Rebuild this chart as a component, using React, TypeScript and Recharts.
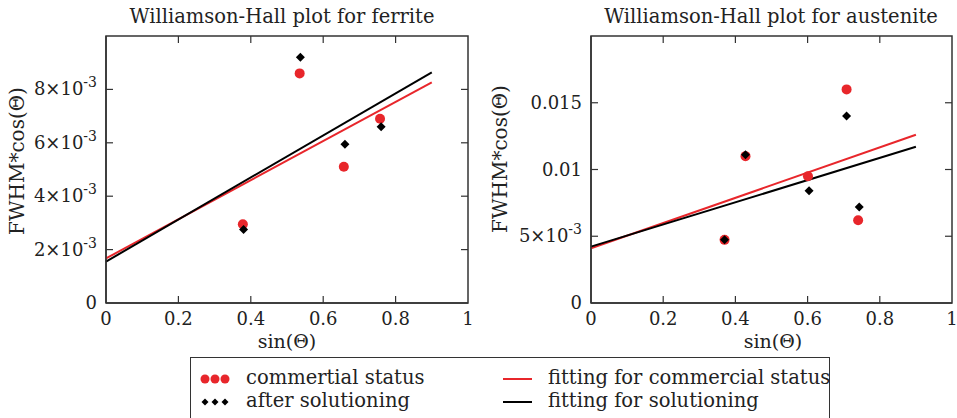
import { ScatterChart, Scatter, XAxis, YAxis } from "recharts"

// sin(theta) positions and FWHM*cos(theta) values
const ferriteXCommercial = [0.378, 0.535, 0.657, 0.757]
const ferriteCommercial = [0.00295, 0.0086, 0.0051, 0.0069]
const ferriteXSolution = [0.38, 0.537, 0.66, 0.76]
const ferriteSolution = [0.00275, 0.0092, 0.00595, 0.0066]

const austeniteXCommercial = [0.37, 0.428, 0.601, 0.708, 0.74]
const austeniteCommercial = [0.00473, 0.011, 0.0095, 0.016, 0.0062]
const austeniteXSolution = [0.37, 0.428, 0.604, 0.708, 0.743]
const austeniteSolution = [0.00473, 0.0111, 0.0084, 0.014, 0.0072]

// linear fits, drawn between their end points
const fitX = [0, 0.9]
const ferriteFitCommercial = [0.00167, 0.00826]
const ferriteFitSolution = [0.00155, 0.00864]
const austeniteFitCommercial = [0.0041, 0.0126]
const austeniteFitSolution = [0.00422, 0.0117]

const xTicks = [0, 0.2, 0.4, 0.6, 0.8, 1]
const xTickLabels = ["0", "0.2", "0.4", "0.6", "0.8", "1"]
const ferriteYTicks = [0, 0.002, 0.004, 0.006, 0.008]
const ferriteYTickLabels = ["0", "2×10^-3", "4×10^-3", "6×10^-3", "8×10^-3"]
const austeniteYTicks = [0, 0.005, 0.01, 0.015]
const austeniteYTickLabels = ["0", "5×10^-3", "0.01", "0.015"]

const RED = "#e8262b"
const BLACK = "#000000"
const FRAME = "#333333"
const FONT = "'DejaVu Serif', serif"
const TEXT = "#222222"

const CHART_H = 357
const TOP = 36
const X_AXIS_H = 54
const TICK_PX = 7

const zip = (xs: number[], ys: number[]) => xs.map((x, i) => ({ x, y: ys[i] }))

function TickText({ x, y, label, anchor }: { x: number; y: number; label: string; anchor: "end" | "middle" }) {
  const [base, exp] = label.split("^")
  return (
    <text x={x} y={y} textAnchor={anchor} fontFamily={FONT} fontSize={18} fill={TEXT}>
      {base}
      {exp && (
        <tspan fontSize={14} dy={-8}>
          {exp}
        </tspan>
      )}
    </text>
  )
}

const Diamond = (props: any) => {
  const { cx, cy } = props
  const r = 4.5
  return <polygon points={`${cx},${cy - r} ${cx + r},${cy} ${cx},${cy + r} ${cx - r},${cy}`} fill={BLACK} />
}

const Dot = (props: any) => <circle cx={props.cx} cy={props.cy} r={5} fill={RED} />
const Nothing = () => <g />

interface PanelProps {
  yDomain: [number, number]
  yTicks: number[]
  yTickLabels: string[]
  axisWidth: number
  width: number
  rightMargin: number
  commercialX: number[]
  commercial: number[]
  solutionX: number[]
  solution: number[]
  fitCommercial: number[]
  fitSolution: number[]
}

// box around the plot with inward ticks on all four sides
function Frame(p: PanelProps) {
  const left = p.axisWidth
  const w = p.width - p.axisWidth - p.rightMargin
  const h = CHART_H - TOP - X_AXIS_H
  const bottom = TOP + h
  const right = left + w
  const [y0, y1] = p.yDomain
  const px = (v: number) => left + v * w
  const py = (v: number) => bottom - ((v - y0) / (y1 - y0)) * h
  return (
    <svg width={p.width} height={CHART_H} style={{ position: "absolute", left: 0, top: 0, pointerEvents: "none" }}>
      <rect x={left} y={TOP} width={w} height={h} fill="none" stroke={FRAME} strokeWidth={1.5} />
      {xTicks.slice(1, -1).map((v) => (
        <g key={`x${v}`} stroke={FRAME} strokeWidth={1.2}>
          <line x1={px(v)} y1={bottom} x2={px(v)} y2={bottom - TICK_PX} />
          <line x1={px(v)} y1={TOP} x2={px(v)} y2={TOP + TICK_PX} />
        </g>
      ))}
      {p.yTicks.slice(1).map((v) => (
        <g key={`y${v}`} stroke={FRAME} strokeWidth={1.2}>
          <line x1={left} y1={py(v)} x2={left + TICK_PX} y2={py(v)} />
          <line x1={right} y1={py(v)} x2={right - TICK_PX} y2={py(v)} />
        </g>
      ))}
    </svg>
  )
}

function Panel(p: PanelProps) {
  return (
    <div style={{ position: "relative", width: p.width, height: CHART_H }}>
      <ScatterChart width={p.width} height={CHART_H} margin={{ top: TOP, right: p.rightMargin, bottom: 0, left: 0 }}>
        <XAxis
          type="number"
          dataKey="x"
          domain={[0, 1]}
          ticks={xTicks}
          height={X_AXIS_H}
          stroke={FRAME}
          strokeWidth={1.5}
          tickLine={false}
          tickSize={0}
          tickMargin={0}
          tick={(t: any) => <TickText x={t.x} y={t.y + 22} label={xTickLabels[t.index]} anchor="middle" />}
        />
        <YAxis
          type="number"
          dataKey="y"
          domain={p.yDomain}
          ticks={p.yTicks}
          width={p.axisWidth}
          stroke={FRAME}
          strokeWidth={1.5}
          tickLine={false}
          tickSize={0}
          tickMargin={0}
          tick={(t: any) => <TickText x={t.x - 9} y={t.y + 6} label={p.yTickLabels[t.index]} anchor="end" />}
        />
        <Scatter
          data={zip(fitX, p.fitCommercial)}
          line={{ stroke: RED, strokeWidth: 2 }}
          shape={Nothing}
          isAnimationActive={false}
        />
        <Scatter
          data={zip(fitX, p.fitSolution)}
          line={{ stroke: BLACK, strokeWidth: 2 }}
          shape={Nothing}
          isAnimationActive={false}
        />
        <Scatter data={zip(p.commercialX, p.commercial)} shape={Dot} isAnimationActive={false} />
        <Scatter data={zip(p.solutionX, p.solution)} shape={Diamond} isAnimationActive={false} />
      </ScatterChart>
      <Frame {...p} />
    </div>
  )
}

const abs = (left: number, top: number, extra: React.CSSProperties = {}): React.CSSProperties => ({
  position: "absolute",
  left,
  top,
  fontFamily: FONT,
  color: TEXT,
  whiteSpace: "nowrap",
  ...extra,
})

const centered = (cx: number, cy: number, size: number, rotate = 0): React.CSSProperties =>
  abs(cx, cy, { fontSize: size, transform: `translate(-50%, -50%) rotate(${rotate}deg)`, lineHeight: 1 })

export default function App() {
  return (
    <div style={{ position: "fixed", left: 0, top: 0, width: 957, height: 418, background: "#fff", overflow: "hidden" }}>
      <div style={abs(0, 0)}>
        <Panel
          width={478}
          axisWidth={106}
          rightMargin={10}
          yDomain={[0, 0.01]}
          yTicks={ferriteYTicks}
          yTickLabels={ferriteYTickLabels}
          commercialX={ferriteXCommercial}
          commercial={ferriteCommercial}
          solutionX={ferriteXSolution}
          solution={ferriteSolution}
          fitCommercial={ferriteFitCommercial}
          fitSolution={ferriteFitSolution}
        />
      </div>
      <div style={abs(478, 0)}>
        <Panel
          width={479}
          axisWidth={113}
          rightMargin={5}
          yDomain={[0, 0.02]}
          yTicks={austeniteYTicks}
          yTickLabels={austeniteYTickLabels}
          commercialX={austeniteXCommercial}
          commercial={austeniteCommercial}
          solutionX={austeniteXSolution}
          solution={austeniteSolution}
          fitCommercial={austeniteFitCommercial}
          fitSolution={austeniteFitSolution}
        />
      </div>

      <div style={centered(282, 17, 19.5)}>Williamson-Hall plot for ferrite</div>
      <div style={centered(771, 17, 19.5)}>Williamson-Hall plot for austenite</div>
      <div style={centered(287, 341, 19)}>sin(Θ)</div>
      <div style={centered(773, 341, 19)}>sin(Θ)</div>
      <div style={centered(17, 161, 20, -90)}>FWHM*cos(Θ)</div>
      <div style={centered(500, 159, 20, -90)}>FWHM*cos(Θ)</div>

      <div style={abs(190, 357, { width: 640, height: 80, border: `1.5px solid ${FRAME}`, boxSizing: "border-box" })}>
        <svg width={640} height={60} style={{ position: "absolute", left: 0, top: 0 }}>
          {[0, 1, 2].map((i) => (
            <circle key={`lc${i}`} cx={14 + i * 10} cy={21} r={4.5} fill={RED} />
          ))}
          {[0, 1, 2].map((i) => (
            <polygon
              key={`ld${i}`}
              points={`${14 + i * 10},${40.5} ${17.5 + i * 10},${44} ${14 + i * 10},${47.5} ${10.5 + i * 10},${44}`}
              fill={BLACK}
            />
          ))}
          <line x1={312} y1={21} x2={341} y2={21} stroke={RED} strokeWidth={2} />
          <line x1={312} y1={44} x2={341} y2={44} stroke={BLACK} strokeWidth={2} />
        </svg>
        <div style={abs(55, 9, { fontSize: 19.5, lineHeight: "22px" })}>commertial status</div>
        <div style={abs(55, 32, { fontSize: 19.5, lineHeight: "22px" })}>after solutioning</div>
        <div style={abs(357, 9, { fontSize: 19.5, lineHeight: "22px" })}>fitting for commercial status</div>
        <div style={abs(357, 32, { fontSize: 19.5, lineHeight: "22px" })}>fitting for solutioning</div>
      </div>
    </div>
  )
}
